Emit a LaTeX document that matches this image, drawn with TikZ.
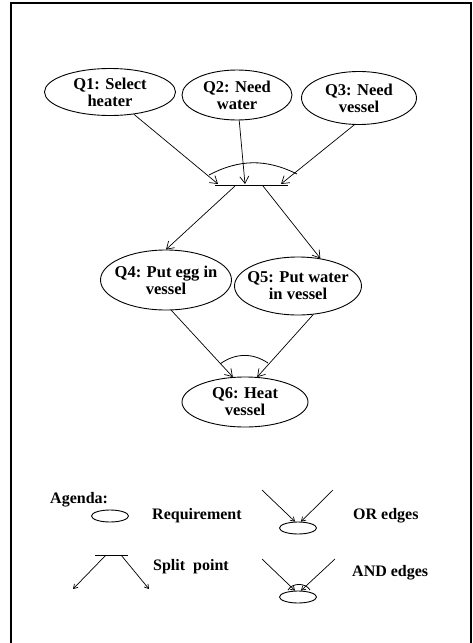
\documentclass[tikz,border=0pt]{standalone}
\usepackage{fontspec}
\setmainfont{Liberation Serif}
\usepackage{tikz}
\usetikzlibrary{shapes.geometric,arrows.meta}
\tikzset{query ellipse/.style={draw, ellipse, line width=0.9pt, inner xsep=-12pt, inner ysep=-3pt, align=center, font=\fontsize{16.5}{17}\selectfont\bfseries}}
\tikzset{legend ellipse/.style={draw, ellipse, line width=0.9pt, inner sep=0pt, minimum width=37pt, minimum height=12pt}}
\tikzset{edge arrow/.style={-{Straight Barb[length=7pt,width=9pt]}, line width=0.7pt}}
\tikzset{small arrow/.style={-{Straight Barb[length=4pt,width=5pt]}, line width=0.7pt}}
\tikzset{legend text/.style={anchor=west, inner sep=0pt, font=\fontsize{16}{17}\selectfont\bfseries}}

\begin{document}
\begin{tikzpicture}[x=1pt,y=-1pt]
\useasboundingbox (0,0) rectangle (472,643);
\draw[line width=1.5pt] (11,643) -- (11,3) -- (471,3) -- (471,643);

% requirements
\node[query ellipse, minimum width=131pt, minimum height=47pt] (q1) at (110,92) {Q1: Select\\heater};
\node[query ellipse, minimum width=110pt, minimum height=50pt] (q2) at (237,95) {Q2: Need\\water};
\node[query ellipse, minimum width=115pt, minimum height=53pt] (q3) at (359,98) {Q3: Need\\vessel};
\node[query ellipse, minimum width=131pt, minimum height=60pt] (q4) at (166,280) {Q4: Put egg in\\vessel};
\node[query ellipse, minimum width=127pt, minimum height=58pt] (q5) at (298,286) {Q5: Put water\\in vessel};
\node[query ellipse, minimum width=126pt, minimum height=50pt] (q6) at (245,402) {Q6: Heat\\vessel};

% split point
\coordinate (split left) at (215,185);
\coordinate (split right) at (288,185);
\draw[line width=0.9pt] (split left) -- (split right);
\coordinate (in1) at (218,184);
\coordinate (in2) at (245,184);
\coordinate (in3) at (281,184);
\coordinate (out1) at (235,186);
\coordinate (out2) at (263,186);
\coordinate (and left) at (209,175);
\coordinate (and right) at (297,174);
\draw[line width=0.8pt] (and left) to[bend left=27] (and right);

\draw[edge arrow] (q1.-43) -- (in1);
\draw[edge arrow] (q2.-85) -- (in2);
\draw[edge arrow] (q3.-100) -- (in3);
\draw[edge arrow] (out1) -- (q4.north);
\draw[edge arrow] (out2) -- (q5.51);

% and edges into q6
\coordinate (and6 left) at (220,364);
\coordinate (and6 right) at (268,363);
\draw[line width=0.8pt] (and6 left) to[bend left=35] (and6 right);
\draw[edge arrow] (q4.-80) -- (q6.116);
\draw[edge arrow] (q5.-62) -- (q6.64);

% agenda
\node[legend text] (agenda) at (50,500) {Agenda:};
\node[legend ellipse] (req) at (110,516) {};
\node[legend text] (req text) at (152,516) {Requirement};

\node[legend ellipse] (or node) at (298,528) {};
\coordinate (or a) at (262,490);
\coordinate (or b) at (333,490);
\draw[small arrow] (or a) -- (or node.115);
\draw[small arrow] (or b) -- (or node.65);
\node[legend text] (or text) at (353,516) {OR edges};

\coordinate (bar left) at (95,555);
\coordinate (bar right) at (128,555);
\draw[line width=0.9pt] (bar left) -- (bar right);
\coordinate (bar a) at (106,555);
\coordinate (bar b) at (121,555);
\coordinate (bar c) at (73,589);
\coordinate (bar d) at (149,589);
\draw[small arrow] (bar a) -- (bar c);
\draw[small arrow] (bar b) -- (bar d);
\node[legend text] (split text) at (153,567) {Split~ point};

\node[legend ellipse] (and node) at (298,597) {};
\coordinate (and a) at (262,559);
\coordinate (and b) at (335,559);
\coordinate (and arc left) at (288,590);
\coordinate (and arc right) at (310,590);
\draw[line width=0.8pt] (and arc left) to[bend left=60] (and arc right);
\draw[small arrow] (and a) -- (and node.115);
\draw[small arrow] (and b) -- (and node.65);
\node[legend text] (and text) at (352,573) {AND edges};
\end{tikzpicture}
\end{document}
